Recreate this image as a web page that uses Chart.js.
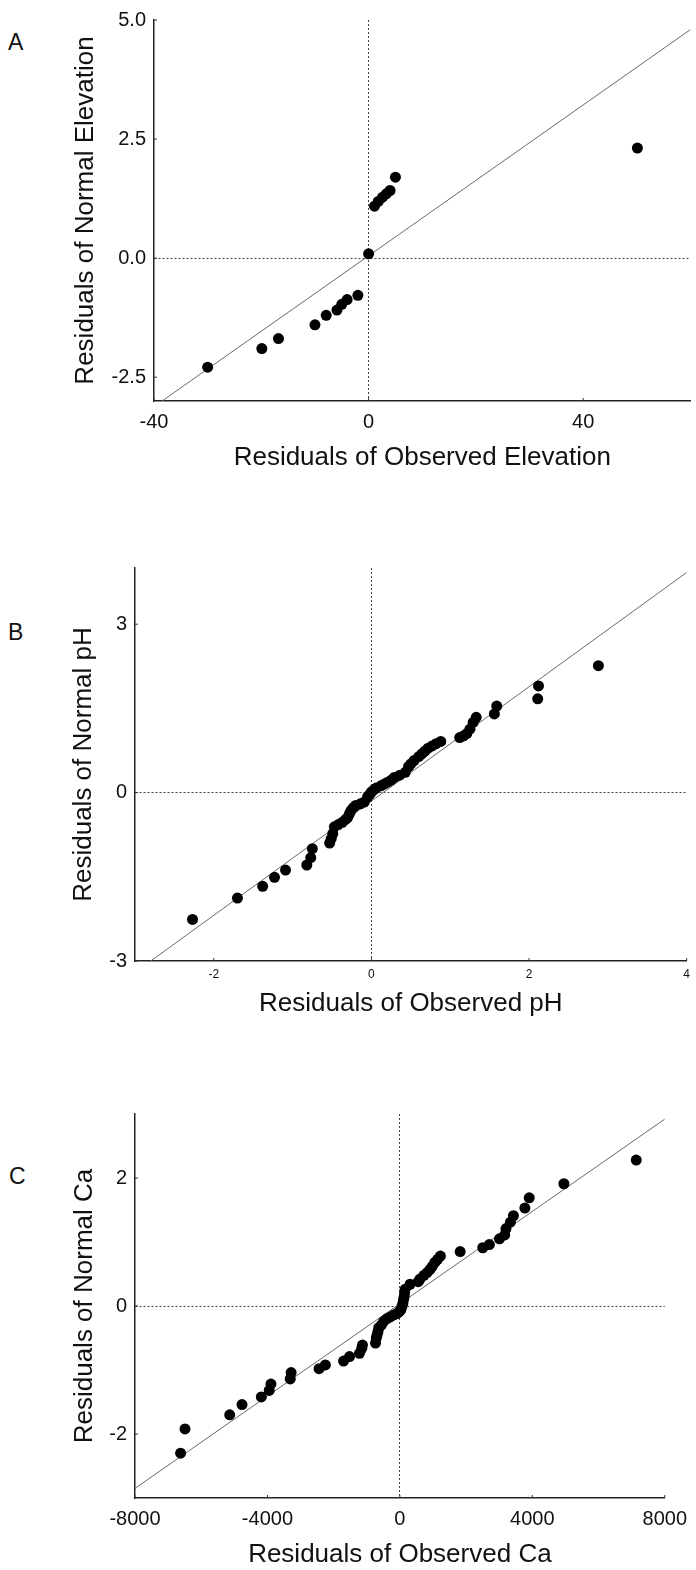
<!DOCTYPE html>
<html>
<head>
<meta charset="utf-8">
<script src="https://cdn.jsdelivr.net/npm/chart.js@4.4.1/dist/chart.umd.min.js"></script>
<style>
  body { margin: 0; background: #fff; width: 696px; height: 1570px; position: relative; overflow: hidden; font-family: "Liberation Sans", Arial, sans-serif; }
  canvas { position: absolute; left: 0; }
  .tag { position: absolute; font-size: 23px; line-height: 1; color: #111; }
</style>
</head>
<body>
<div class="tag" style="left:8px;top:31px">A</div>
<div class="tag" style="left:8px;top:621px">B</div>
<div class="tag" style="left:9px;top:1165px">C</div>

<canvas id="chartA" width="696" height="473" style="top:0px"></canvas>
<canvas id="chartB" width="696" height="499" style="top:520px"></canvas>
<canvas id="chartC" width="696" height="512" style="top:1058px"></canvas>

<script>
const FONT = "'Liberation Sans', Arial, sans-serif"

// A - elevation
const xA = [-30, -19.9, -16.8, -10.0, -7.9, -5.9, -5.0, -4.0, -2.0, 0, 1.1, 1.8, 2.6, 3.3, 4.0, 5.0, 50.1]
const yA = [-2.29, -1.90, -1.69, -1.40, -1.20, -1.09, -0.97, -0.87, -0.78, 0.09, 1.09, 1.19, 1.28, 1.35, 1.42, 1.70, 2.31]
const lineA = [[-38.5, -3], [60, 4.8]]
const xTicksA = [-40, 0, 40]
const yTicksA = [-2.5, 0, 2.5, 5]

// B - pH
const xB = [-2.27, -1.70, -1.38, -1.23, -1.09, -0.82, -0.77, -0.75, -0.53, -0.51, -0.49, -0.47, -0.42, -0.37, -0.33, -0.30,
  -0.28, -0.26, -0.23, -0.20, -0.14, -0.09, -0.05, -0.02, 0.0, 0.03, 0.06, 0.12, 0.16, 0.20, 0.25, 0.29, 0.36, 0.43,
  0.47, 0.50, 0.54, 0.60, 0.64, 0.68, 0.72, 0.77, 0.82, 0.88, 1.12, 1.17, 1.21, 1.25, 1.29, 1.33, 1.56, 1.59, 2.11, 2.12, 2.88]
const yB = [-2.26, -1.88, -1.67, -1.51, -1.38, -1.29, -1.16, -1.00, -0.90, -0.82, -0.73, -0.61, -0.57, -0.53, -0.48, -0.44,
  -0.38, -0.32, -0.27, -0.23, -0.20, -0.17, -0.08, -0.03, 0.01, 0.05, 0.08, 0.12, 0.15, 0.18, 0.22, 0.27, 0.31, 0.36,
  0.46, 0.51, 0.57, 0.64, 0.69, 0.74, 0.79, 0.83, 0.87, 0.91, 0.98, 1.01, 1.05, 1.13, 1.25, 1.34, 1.40, 1.54, 1.67, 1.90, 2.26]
const lineB = [[-2.8, -3], [4, 3.92]]
const xTicksB = [-2, 0, 2, 4]
const yTicksB = [-3, 0, 3]

// C - calcium
const xC = [-6623, -6490, -5139, -4768, -4185, -3947, -3894, -3311, -3285, -2440, -2250, -1700, -1520, -1220, -1150, -1130,
  -736, -712, -687, -662, -637, -560, -488, -400, -289, -180, -90, -20, 30, 60, 90, 110, 129, 145, 159, 308, 556, 607,
  726, 821, 905, 980, 1054, 1140, 1224, 1821, 2503, 2702, 3007, 3166, 3205, 3338, 3430, 3775, 3907, 4954, 7139]
const yC = [-2.30, -1.92, -1.70, -1.54, -1.42, -1.32, -1.22, -1.14, -1.04, -0.98, -0.92, -0.86, -0.79, -0.74, -0.66, -0.61,
  -0.58, -0.50, -0.45, -0.40, -0.34, -0.30, -0.24, -0.20, -0.17, -0.14, -0.12, -0.09, -0.06, -0.01, 0.04, 0.10, 0.15, 0.21, 0.26, 0.34, 0.38, 0.42,
  0.48, 0.52, 0.57, 0.62, 0.68, 0.73, 0.78, 0.85, 0.91, 0.96, 1.05, 1.11, 1.21, 1.31, 1.41, 1.53, 1.69, 1.91, 2.28]
const lineC = [[-8000, -2.85], [8000, 2.92]]
const xTicksC = [-8000, -4000, 0, 4000, 8000]
const yTicksC = [-2, 0, 2]

const toPts = (xs, ys) => xs.map((x, i) => ({ x, y: ys[i] }))

// small tick marks pointing into the plot
const innerTicks = {
  id: "innerTicks",
  afterDraw(chart) {
    const { ctx, scales: { x, y } } = chart
    ctx.save()
    ctx.strokeStyle = "#333"
    ctx.lineWidth = 1
    ctx.beginPath()
    x.ticks.forEach(t => { const p = x.getPixelForValue(t.value); ctx.moveTo(p, x.top); ctx.lineTo(p, x.top - 3) })
    y.ticks.forEach(t => { const p = y.getPixelForValue(t.value); ctx.moveTo(y.right, p); ctx.lineTo(y.right + 3, p) })
    ctx.stroke()
    ctx.restore()
  }
}

function axis(o) {
  return {
    type: "linear", min: o.min, max: o.max, bounds: "data",
    afterBuildTicks: s => { s.ticks = o.ticks.map(v => ({ value: v })) },
    afterFit: s => { if (o.horizontal) s.height = o.size; else s.width = o.size },
    grid: { drawTicks: false, lineWidth: 1, color: c => (c.tick && c.tick.value === 0) ? "#444" : "rgba(0,0,0,0)" },
    border: { display: true, color: "#222", width: 1.5, dash: [2, 2] },
    ticks: { padding: o.tickPad, color: "#111", autoSkip: false, maxRotation: 0, font: { family: FONT, size: o.tickSize }, callback: o.fmt },
    title: { display: true, text: o.title, color: "#111", font: { family: FONT, size: 26 }, padding: o.titlePad }
  }
}

function panel(id, p) {
  return new Chart(document.getElementById(id), {
    type: "scatter",
    data: {
      datasets: [
        { data: p.points, pointRadius: 5.5, pointHoverRadius: 5.5, backgroundColor: "#000", borderWidth: 0 },
        { type: "line", data: p.line.map(([x, y]) => ({ x, y })), borderColor: "#6a6a6a", borderWidth: 1, pointRadius: 0, fill: false }
      ]
    },
    options: {
      responsive: false, animation: false, devicePixelRatio: 1,
      layout: { padding: { top: p.top, right: p.right, left: 0, bottom: 0 } },
      plugins: { legend: { display: false }, tooltip: { enabled: false } },
      scales: { x: p.x, y: p.y }
    },
    plugins: [innerTicks]
  })
}

panel("chartA", {
  points: toPts(xA, yA), line: lineA, top: 19, right: 5,
  x: axis({ horizontal: true, min: -40, max: 60, ticks: xTicksA, size: 72, tickPad: 9, tickSize: 20, title: "Residuals of Observed Elevation", titlePad: { top: 0, bottom: 0 }, fmt: v => String(v) }),
  y: axis({ min: -3, max: 5, ticks: yTicksA, size: 154, tickPad: 8, tickSize: 20, title: "Residuals of Normal Elevation", titlePad: { top: 70, bottom: 0 }, fmt: v => v.toFixed(1) })
})

panel("chartB", {
  points: toPts(xB, yB), line: lineB, top: 48, right: 5,
  x: axis({ horizontal: true, min: -3, max: 4, ticks: xTicksB, size: 58, tickPad: 6, tickSize: 12, title: "Residuals of Observed pH", titlePad: { top: 0, bottom: 0 }, fmt: v => String(v) }),
  y: axis({ min: -3, max: 4, ticks: yTicksB, size: 135, tickPad: 8, tickSize: 20, title: "Residuals of Normal pH", titlePad: { top: 68, bottom: 0 }, fmt: v => String(v) })
})

panel("chartC", {
  points: toPts(xC, yC), line: lineC, top: 56, right: 25,
  x: axis({ horizontal: true, min: -8000, max: 8000, ticks: xTicksC, size: 72, tickPad: 9, tickSize: 20, title: "Residuals of Observed Ca", titlePad: { top: 0, bottom: 0 }, fmt: v => String(v) }),
  y: axis({ min: -3, max: 3, ticks: yTicksC, size: 135, tickPad: 8, tickSize: 20, title: "Residuals of Normal Ca", titlePad: { top: 69, bottom: 0 }, fmt: v => String(v) })
})
</script>
</body>
</html>
